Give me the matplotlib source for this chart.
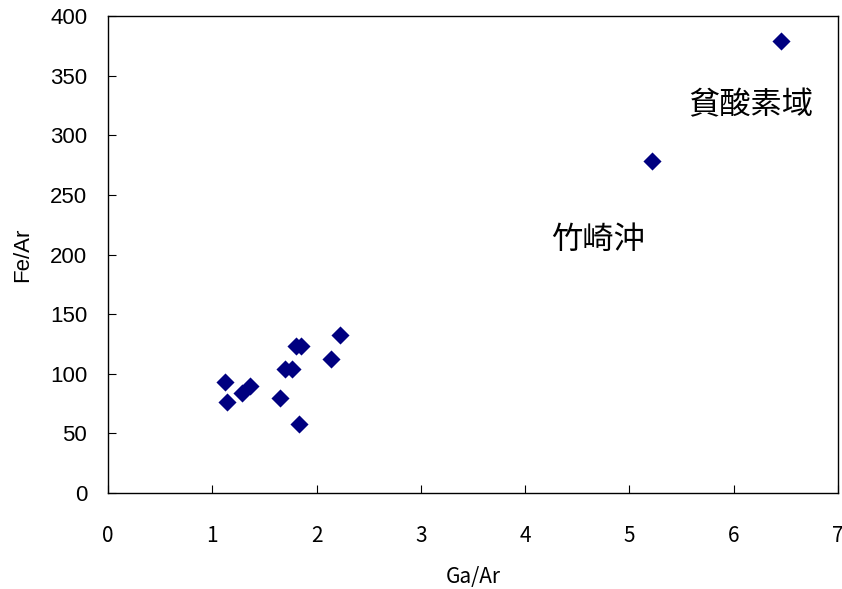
import matplotlib
matplotlib.use("Agg")
import matplotlib.pyplot as plt

# Ga/Ar vs Fe/Ar ratios
ga_ar = [1.12, 1.14, 1.28, 1.36, 1.65, 1.70, 1.76, 1.80, 1.85, 1.83, 2.14, 2.22, 5.22, 6.45]
fe_ar = [93.3, 76.5, 84.1, 89.7, 79.6, 104.2, 104.2, 123.3, 123.3, 57.9, 112.1, 132.5, 278.3, 379.0]

x_ticks = [0, 1, 2, 3, 4, 5, 6, 7]
y_ticks = [0, 50, 100, 150, 200, 250, 300, 350, 400]

labels = ["貧酸素域", "竹崎沖"]
label_pos = [(6.16, 325), (4.70, 212)]

plt.rcParams['font.family'] = ['Noto Sans CJK JP', 'DejaVu Sans']

fig = plt.figure(figsize=(8.42, 5.89), dpi=100)
ax = fig.add_axes([0.1283, 0.163, 0.8669, 0.8098])

ax.scatter(ga_ar, fe_ar, marker='D', s=85, color='#000080', linewidths=0, zorder=3)

for txt, (lx, ly) in zip(labels, label_pos):
    ax.text(lx, ly, txt, fontsize=22.5, ha='center', va='center', color='black')

ax.set_xlim(0, 7)
ax.set_ylim(0, 400)
ax.set_xticks(x_ticks)
ax.set_yticks(y_ticks)
ax.set_xticklabels([str(v) for v in x_ticks], fontsize=15)
ax.set_yticklabels([str(v) for v in y_ticks], fontsize=16, family=['Liberation Sans', 'DejaVu Sans'])
ax.tick_params(axis='both', direction='in', length=6, width=0.8)
ax.tick_params(axis='x', pad=23)
ax.tick_params(axis='y', pad=15)

for s in ax.spines.values():
    s.set_linewidth(1.0)
    s.set_color('black')

ax.set_xlabel("Ga/Ar", fontsize=15, labelpad=14)
ax.set_ylabel("Fe/Ar", fontsize=16, labelpad=12, family=['Liberation Sans', 'DejaVu Sans'])

fig.savefig("out.png", dpi=100, facecolor='white')
